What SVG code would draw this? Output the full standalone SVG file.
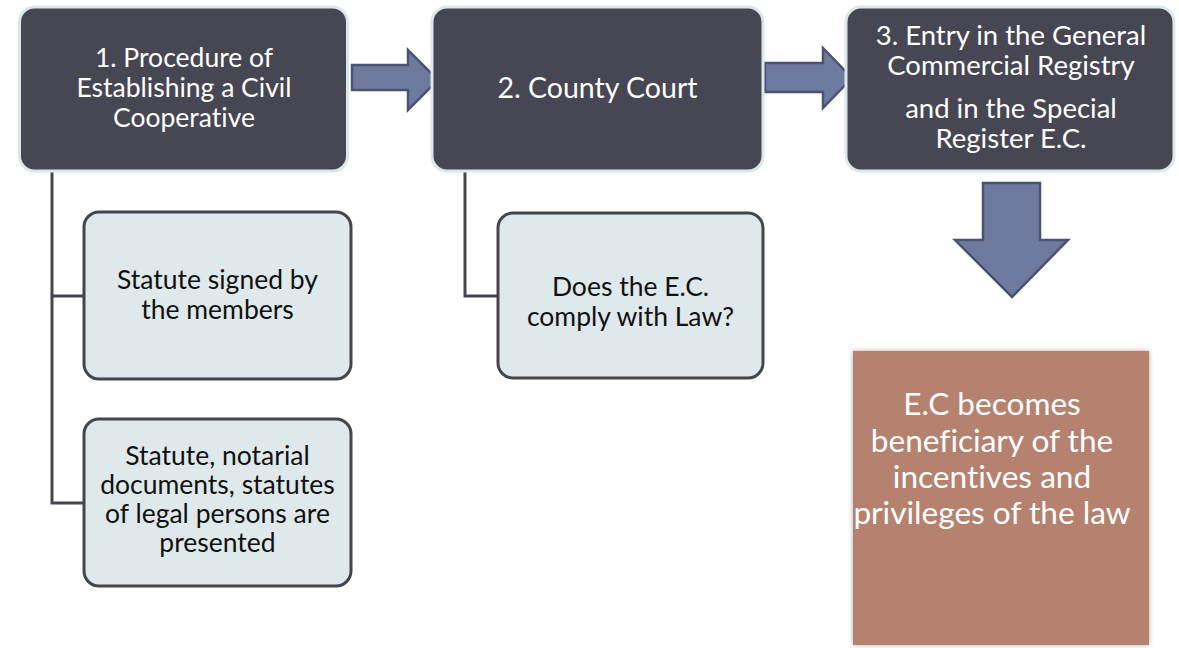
<svg xmlns="http://www.w3.org/2000/svg" width="1179" height="648" viewBox="0 0 1179 648">
<defs>
<style>
text{font-variant-ligatures:none}
.main{fill:#474653;stroke:#DCE7E9;stroke-width:3}
.sub{fill:#DFE9EB;stroke:#46454F;stroke-width:3}
.arrow{fill:#6F7A9F;stroke:#4A5374;stroke-width:2.5;stroke-linejoin:miter}
.line{fill:none;stroke:#46454F;stroke-width:3}
.wt{font-family:Lato,"Open Sans",sans-serif;font-size:26.5px;fill:#FFFFFF;text-anchor:middle}
.bt{font-family:Lato,"Open Sans",sans-serif;font-size:26.5px;fill:#111111;text-anchor:middle}
.big{font-family:Lato,"Open Sans",sans-serif;font-size:31.6px;fill:#FFFFFF;text-anchor:middle}
</style>
<filter id="sh" x="-10%" y="-10%" width="120%" height="120%">
<feGaussianBlur in="SourceAlpha" stdDeviation="2.5"/>
<feOffset dx="0" dy="0"/>
<feComponentTransfer><feFuncA type="linear" slope="0.35"/></feComponentTransfer>
<feMerge><feMergeNode/><feMergeNode in="SourceGraphic"/></feMerge>
</filter>
</defs>
<rect width="1179" height="648" fill="#FFFFFF"/>
<g id="connectors">
<path class="line" d="M52,170 V503 H84 M52,296 H84"/>
<path class="line" d="M465,170 V296 H498"/>
<polygon id="arrow1" class="arrow" points="352,65 408,65 408,50 438,80 408,110 408,90 352,90"/>
<polygon id="arrow2" class="arrow" points="765,63 823,63 823,48 852,78 823,108 823,92 765,92"/>
<polygon id="arrow3" class="arrow" points="983,183 1040,183 1040,240 1068,240 1012,297 955,240 983,240"/>
</g>
<g id="node1">
<rect class="main" x="19.5" y="7" width="328" height="164" rx="15"/>
<text class="wt" x="184" y="67">1. Procedure of</text>
<text class="wt" x="184" y="97">Establishing a Civil</text>
<text class="wt" x="184" y="127">Cooperative</text>
</g>
<g id="node2">
<rect class="main" x="432" y="7" width="331" height="164" rx="15"/>
<text class="wt" x="597.5" y="98" style="font-size:28.5px">2. County Court</text>
</g>
<g id="node3">
<rect class="main" x="846" y="7" width="328" height="164" rx="15"/>
<text class="wt" x="1011" y="45" style="font-size:27.5px">3. Entry in the General</text>
<text class="wt" x="1011" y="75" style="font-size:27.5px">Commercial Registry</text>
<text class="wt" x="1011" y="118" style="font-size:27.5px">and in the Special</text>
<text class="wt" x="1011" y="148" style="font-size:27.5px">Register E.C.</text>
</g>
<g id="sub1">
<rect class="sub" x="84" y="212" width="267" height="167" rx="15"/>
<text class="bt" x="217.5" y="289">Statute signed by</text>
<text class="bt" x="217.5" y="319">the members</text>
</g>
<g id="sub2">
<rect class="sub" x="84" y="419" width="267" height="167" rx="15"/>
<text class="bt" x="217.5" y="465">Statute, notarial</text>
<text class="bt" x="217.5" y="494">documents, statutes</text>
<text class="bt" x="217.5" y="523">of legal persons are</text>
<text class="bt" x="217.5" y="552">presented</text>
</g>
<g id="sub3">
<rect class="sub" x="498" y="213" width="265" height="165" rx="15"/>
<text class="bt" x="630.5" y="296">Does the E.C.</text>
<text class="bt" x="630.5" y="326">comply with Law?</text>
</g>
<g id="result">
<rect x="853" y="351" width="296" height="294" fill="#B5826F" filter="url(#sh)"/>
<text class="big" x="992" y="415">E.C becomes</text>
<text class="big" x="992" y="452">beneficiary of the</text>
<text class="big" x="992" y="488">incentives and</text>
<text class="big" x="992" y="524">privileges of the law</text>
</g>
</svg>
